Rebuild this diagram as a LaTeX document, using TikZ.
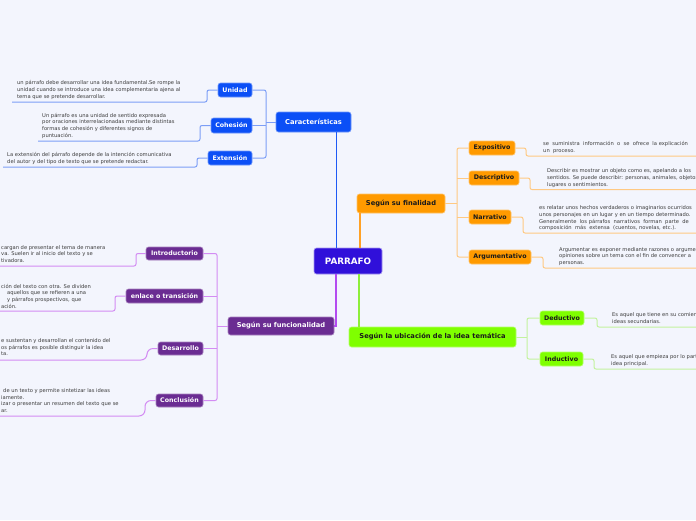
\documentclass[tikz,border=0pt]{standalone}
\usepackage{fontspec}
\setmainfont{DejaVu Sans}
\definecolor{bgc}{HTML}{F3F5FD}
\definecolor{parrc}{HTML}{3010DA}
\definecolor{bluec}{HTML}{0B4FF6}
\definecolor{orc}{HTML}{FF9A00}
\definecolor{puc}{HTML}{6A2C92}
\definecolor{grc}{HTML}{7FFF00}
\definecolor{notec}{HTML}{3C3C3C}
\definecolor{darkc}{HTML}{1A1A1A}
\definecolor{blA}{HTML}{1E5AF5}
\definecolor{blB}{HTML}{7C9EF6}
\definecolor{orA}{HTML}{FFA126}
\definecolor{orB}{HTML}{FFC983}
\definecolor{puA}{HTML}{B44BF0}
\definecolor{puB}{HTML}{D38CF3}
\definecolor{grA}{HTML}{8DEE3A}
\definecolor{grB}{HTML}{C3F29E}
\begin{document}
\begin{tikzpicture}[x=1pt,y=-1pt,
  nd/.style={rounded corners=2.5pt, inner sep=0pt, line width=0.6pt, font=\bfseries\fontsize{6.3}{7}\selectfont},
  bignd/.style={nd, font=\bfseries\fontsize{6.7}{8}\selectfont},
  bluend/.style={fill=bluec, draw=bluec!60!white, text=white},
  ornd/.style={fill=orc, draw=orc!60!white, text=darkc},
  pund/.style={fill=puc, draw=puc!60!white, text=white},
  grnd/.style={fill=grc, draw=grc!60!white, text=darkc},
  note/.style={anchor=north west, inner sep=0pt, align=left, text=notec, font=\fontsize{5.2}{6.6}\selectfont},
  mainline/.style={line width=1.8pt},
  subline/.style={line width=1pt, rounded corners=2pt},
  curvline/.style={line width=1pt, rounded corners=6pt}
]
\useasboundingbox (0,0) rectangle (696,520);
\clip (0,0) rectangle (696,520);
\fill[bgc] (0,0) rectangle (696,520);

% ---------- nodes ----------
\node[nd, fill=parrc, draw=parrc!45!white, text=white, minimum width=68pt, minimum height=26pt,
      font=\bfseries\fontsize{8.8}{10}\selectfont] (parrafo) at (348,261) {PARRAFO};

\node[bignd, bluend, minimum width=75pt, minimum height=20pt] (carac) at (313.5,122) {Características};
\node[nd, bluend, minimum width=34pt, minimum height=14pt] (unidad) at (235,90) {Unidad};
\node[nd, bluend, minimum width=41pt, minimum height=15pt] (cohes) at (231.5,125.5) {Cohesión};
\node[nd, bluend, minimum width=44pt, minimum height=14pt] (exten) at (230,158) {Extensión};

\node[bignd, ornd, minimum width=88pt, minimum height=19pt] (final) at (401,203.5) {Según su finalidad};
\node[nd, ornd, minimum width=46pt, minimum height=14pt] (expo) at (492,148) {Expositivo};
\node[nd, ornd, minimum width=50pt, minimum height=14pt] (descr) at (494,178) {Descriptivo};
\node[nd, ornd, minimum width=42pt, minimum height=14pt] (narr) at (490,217) {Narrativo};
\node[nd, ornd, minimum width=62pt, minimum height=14pt] (argu) at (500,257) {Argumentativo};

\node[bignd, pund, minimum width=106pt, minimum height=18pt] (func) at (281,326) {Según su funcionalidad};
\node[nd, pund, minimum width=57pt, minimum height=13pt] (intro) at (174.5,253.5) {Introductorio};
\node[nd, pund, minimum width=77pt, minimum height=14pt] (enlace) at (164.5,296) {enlace o transición};
\node[nd, pund, minimum width=45pt, minimum height=13pt] (desar) at (180.5,348.5) {Desarrollo};
\node[nd, pund, minimum width=47pt, minimum height=13pt] (concl) at (179.5,400.5) {Conclusión};

\node[bignd, grnd, minimum width=167pt, minimum height=20pt] (ubic) at (432.5,337) {Según la ubicación de la idea temática};
\node[nd, grnd, minimum width=44pt, minimum height=14pt] (deduc) at (562,318) {Deductivo};
\node[nd, grnd, minimum width=43pt, minimum height=14pt] (induc) at (561.5,359) {Inductivo};

% ---------- notes ----------
\node[note] (nUni) at (17,80.1) {\strut un párrafo debe desarrollar una idea fundamental.Se rompe la\\unidad cuando se introduce una idea complementaria ajena al\\tema que se pretende desarrollar.};
\node[note] (nCoh) at (42,112.5) {\strut Un párrafo es una unidad de sentido expresada\\por oraciones interrelacionadas mediante distintas\\formas de cohesión y diferentes signos de\\puntuación.};
\node[note] (nExt) at (7,151.8) {\strut La extensión del párrafo depende de la intención comunicativa\\del autor y del tipo de texto que se pretende redactar.};

\node[note] (nExp) at (543,141.1) {\strut se\ \ suministra\ \ información\ \ o\ \ se\ \ ofrece\ \ la explicación\\un\ \ proceso.};
\node[note] (nDes) at (547,168.1) {\strut Describir es mostrar un objeto como es, apelando a los\\sentidos. Se puede describir: personas, animales, objetos,\\lugares o sentimientos.};
\node[note] (nNar) at (539,205.1) {\strut es relatar unos hechos verdaderos o imaginarios ocurridos\\unos personajes en un lugar y en un tiempo determinado.\\Generalmente\ \ los párrafos\ \ narrativos\ \ forman\ \ parte\ \ de\\composición\ \ más\ \ extensa\ \ (cuentos, novelas, etc.).};
\node[note] (nArg) at (559,246.3) {\strut Argumentar es exponer mediante razones o argumentos\\opiniones sobre un tema con el fin de convencer a\\personas.};

\node[note] (nDed) at (612,311.8) {\strut Es aquel que tiene en su comienzo\\ideas secundarias.};
\node[note] (nInd) at (611,354.1) {\strut Es aquel que empieza por lo particular\\idea principal.};

\node[note] (nIntro) at (1,244.5) {\strut cargan de presentar el tema de manera\\va. Suelen ir al inicio del texto y se\\tivadora.};
\node[note] (nEnl) at (1,283.5) {\strut ción del texto con otra. Se dividen\\\hspace*{6pt}aquellos que se refieren a una\\\hspace*{6pt}y párrafos prospectivos, que\\ación.};
\node[note] (nDesa) at (1,337.8) {\strut e sustentan y desarrollan el contenido del\\os párrafos es posible distinguir la idea\\ta.};
\node[note] (nConc) at (1,387.8) {\strut\hspace*{2pt}de un texto y permite sintetizar las ideas\\iamente.\\izar o presentar un resumen del texto que se\\ar.};

% ---------- main connectors ----------
\coordinate (pb) at ([xshift=-11.5pt]parrafo.north);
\coordinate (po) at ([xshift=12pt]parrafo.north);
\coordinate (pp) at ([xshift=-12pt]parrafo.south);
\coordinate (pg) at ([xshift=11pt]parrafo.south);
\draw[mainline, blA] (pb) -- (pb |- carac.south);
\draw[mainline, orA] (po) -- (po |- final.south);
\draw[mainline, puA] (pp) -- (pp |- func.east) -- (func.east);
\draw[mainline, grA] (pg) -- (pg |- ubic.north);

% ---------- Características ----------
\coordinate (cb) at (266,122);
\draw[subline, blB] (carac.west) -- (cb);
\draw[subline, blB] (unidad.east) -| (cb) |- (exten.east);
\draw[subline, blB] (cohes.east) -- (cb |- cohes.east);
\coordinate (u1) at (207,102); \coordinate (u1e) at (12,102);
\coordinate (c1) at (200,141); \coordinate (c1e) at (38,141);
\coordinate (x1) at (197,167); \coordinate (x1e) at (3,167);
\draw[subline, blB] (unidad.west) -| (u1) -- (u1e);
\draw[subline, blB] (cohes.west) -| (c1) -- (c1e);
\draw[subline, blB] (exten.west) -| (x1) -- (x1e);

% ---------- Finalidad ----------
\coordinate (fb) at (457,203.5);
\draw[subline, orB] (final.east) -- (fb);
\draw[subline, orB] (expo.west) -| (fb) |- (argu.west);
\draw[subline, orB] (descr.west) -- (fb |- descr.west);
\draw[subline, orB] (narr.west) -- (fb |- narr.west);
\coordinate (e1) at (526,156); \coordinate (e1e) at (696,156);
\coordinate (d1) at (530,189.5); \coordinate (d1e) at (696,189.5);
\coordinate (n1) at (523,233); \coordinate (n1e) at (696,233);
\coordinate (a1) at (543,268); \coordinate (a1e) at (696,268);
\draw[subline, orB] (expo.east) -| (e1) -- (e1e);
\draw[subline, orB] (descr.east) -| (d1) -- (d1e);
\draw[subline, orB] (narr.east) -| (n1) -- (n1e);
\draw[subline, orB] (argu.east) -| (a1) -- (a1e);

% ---------- Funcionalidad ----------
\coordinate (gb) at (217,326);
\draw[subline, puB] (func.west) -- (gb);
\draw[subline, puB] (intro.east) -| (gb) |- (concl.east);
\draw[subline, puB] (enlace.east) -- (gb |- enlace.east);
\draw[subline, puB] (desar.east) -- (gb |- desar.east);
\coordinate (i1) at (136,266); \coordinate (i1e) at (0,266);
\coordinate (t1) at (115,311); \coordinate (t1e) at (0,311);
\coordinate (s1) at (147,360); \coordinate (s1e) at (0,360);
\coordinate (k1) at (145,416); \coordinate (k1e) at (0,416);
\draw[subline, puB] (intro.west) -| (i1) -- (i1e);
\draw[subline, puB] (enlace.west) -| (t1) -- (t1e);
\draw[curvline, puB] (desar.west) -| (s1) -- (s1e);
\draw[curvline, puB] (concl.west) -| (k1) -- (k1e);

% ---------- Ubicación ----------
\coordinate (hb) at (527,337);
\draw[subline, grB] (ubic.east) -- (hb);
\draw[subline, grB] (deduc.west) -| (hb) |- (induc.west);
\coordinate (de1) at (597,327); \coordinate (de1e) at (696,327);
\coordinate (in1) at (594,369); \coordinate (in1e) at (696,369);
\draw[subline, grB] (deduc.east) -| (de1) -- (de1e);
\draw[subline, grB] (induc.east) -| (in1) -- (in1e);
\end{tikzpicture}
\end{document}
